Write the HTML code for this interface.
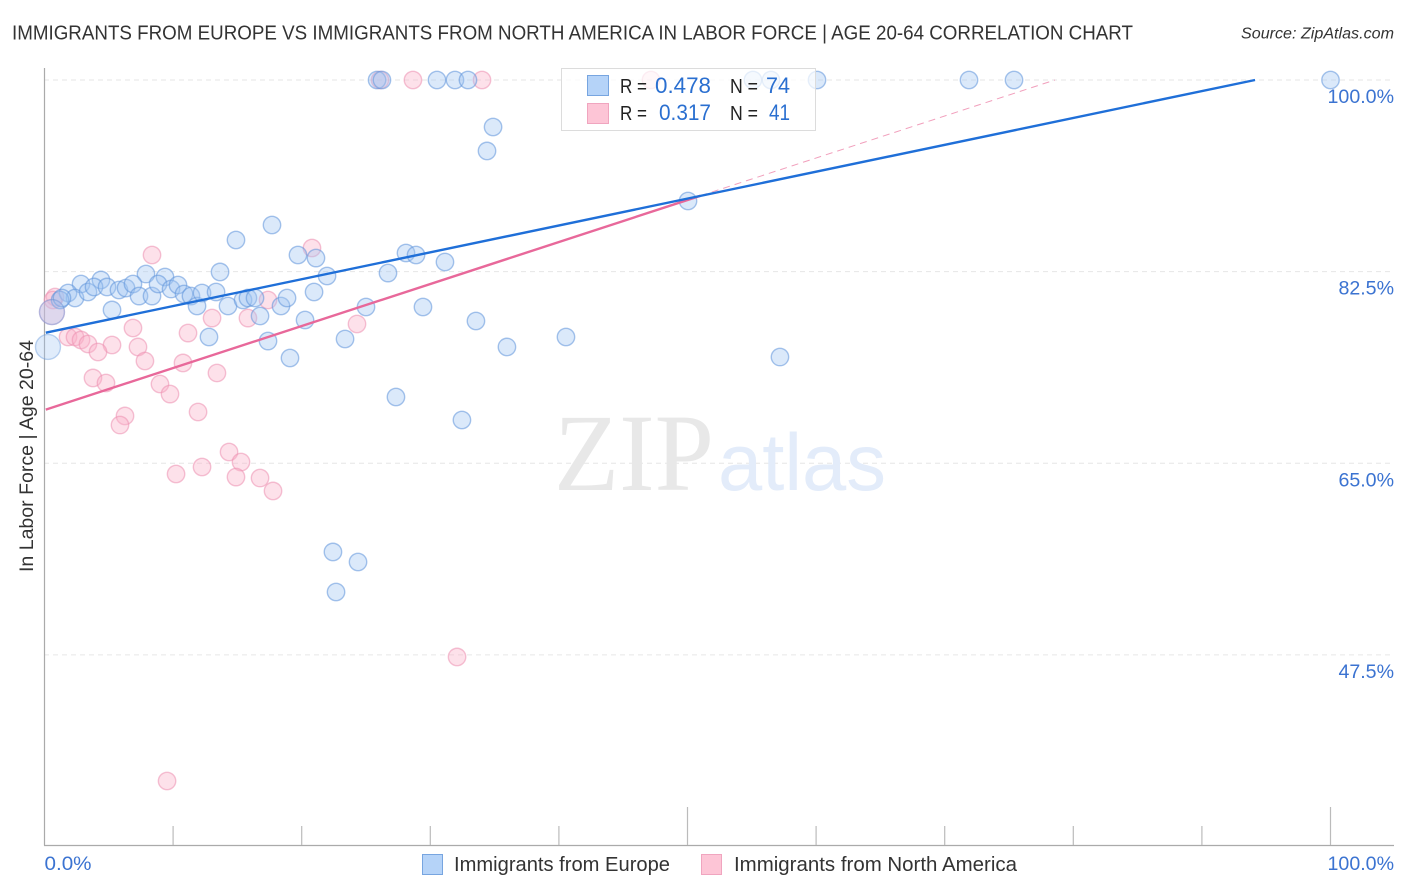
<!DOCTYPE html>
<html lang="en">
<head>
<meta charset="utf-8">
<title>Immigrants from Europe vs Immigrants from North America in Labor Force | Age 20-64 Correlation Chart</title>
<style>
html,body{margin:0;padding:0;background:#fff;width:1406px;height:892px;overflow:hidden}
svg{display:block}
text{font-family:"Liberation Sans",sans-serif}
</style>
</head>
<body>
<svg id="chart" width="1406" height="892" viewBox="0 0 1406 892" xmlns="http://www.w3.org/2000/svg">
  <rect x="0" y="0" width="1406" height="892" fill="#fff"/>
  <text x="12" y="39.5" font-size="20" fill="#333" textLength="1121" lengthAdjust="spacingAndGlyphs">IMMIGRANTS FROM EUROPE VS IMMIGRANTS FROM NORTH AMERICA IN LABOR FORCE | AGE 20-64 CORRELATION CHART</text>
  <text x="1394" y="38.5" font-size="15.5" font-style="italic" fill="#333" text-anchor="end" textLength="153" lengthAdjust="spacingAndGlyphs">Source: ZipAtlas.com</text>
  <g id="grid"></g>
  <g>
    <text x="554" y="490" font-size="110" fill="#e8e8e8" textLength="160" lengthAdjust="spacingAndGlyphs" style="font-family:'Liberation Serif',serif">ZIP</text>
    <text x="718" y="490" font-size="81" fill="#e3ecfa" textLength="168" lengthAdjust="spacingAndGlyphs" style="font-family:'Liberation Sans',sans-serif">atlas</text>
  </g>
  <g id="axes"></g>
  <g id="pink-points"></g>
  <g id="blue-points"></g>
  <g id="trends"></g>
  <g id="tick-labels"></g>
  <text transform="translate(33,456) rotate(-90)" font-size="19" fill="#333" text-anchor="middle" textLength="232" lengthAdjust="spacingAndGlyphs">In Labor Force | Age 20-64</text>

  <g>
    <rect x="561.5" y="68.5" width="254" height="62" fill="#fff" fill-opacity="0.72" stroke="#dcdcdc"/>
    <rect x="587.5" y="75.5" width="21" height="20" fill="#b5d3f8" stroke="#77a5e0" stroke-width="1"/>
    <rect x="587.5" y="103.5" width="21" height="20" fill="#fdc5d6" stroke="#f0a5bf" stroke-width="1"/>
    <text x="620" y="93" font-size="20" fill="#222" textLength="27" lengthAdjust="spacingAndGlyphs">R =</text>
    <text x="711" y="93" font-size="22" fill="#2a6fd0" text-anchor="end" textLength="56" lengthAdjust="spacingAndGlyphs">0.478</text>
    <text x="730" y="93" font-size="20" fill="#222" textLength="28" lengthAdjust="spacingAndGlyphs">N =</text>
    <text x="790" y="93" font-size="22" fill="#2a6fd0" text-anchor="end" textLength="24" lengthAdjust="spacingAndGlyphs">74</text>
    <text x="620" y="120" font-size="20" fill="#222" textLength="27" lengthAdjust="spacingAndGlyphs">R =</text>
    <text x="711" y="120" font-size="22" fill="#2a6fd0" text-anchor="end" textLength="52" lengthAdjust="spacingAndGlyphs">0.317</text>
    <text x="730" y="120" font-size="20" fill="#222" textLength="28" lengthAdjust="spacingAndGlyphs">N =</text>
    <text x="790" y="120" font-size="22" fill="#2a6fd0" text-anchor="end" textLength="21" lengthAdjust="spacingAndGlyphs">41</text>
  </g>

  <g>
    <rect x="422.5" y="854.5" width="20" height="20" fill="#b5d3f8" stroke="#77a5e0"/>
    <text x="454" y="871" font-size="20" fill="#333" textLength="216" lengthAdjust="spacingAndGlyphs">Immigrants from Europe</text>
    <rect x="701.5" y="854.5" width="20" height="20" fill="#fdc5d6" stroke="#f0a5bf"/>
    <text x="734" y="871" font-size="20" fill="#333" textLength="283" lengthAdjust="spacingAndGlyphs">Immigrants from North America</text>
  </g>
</svg>
<script>
const yTickValues = [100, 82.5, 65, 47.5];
const yTickLabels = ['100.0%', '82.5%', '65.0%', '47.5%'];
const xTickValues = [0, 10, 20, 30, 40, 50, 60, 70, 80, 90, 100];
const xEndLabels = ['0.0%', '100.0%'];

const europeX = [25.86,26.24,30.52,31.92,32.93,55.09,56.49,60.07,71.89,75.39,100,34.88,34.41,50.04,14.89,17.69,19.71,21.11,21.97,13.65,7.89,9.37,4.39,2.84,1.83,2.37,3.38,3.85,4.86,5.79,6.34,6.88,7.35,8.36,8.83,9.84,10.38,10.85,11.39,11.86,12.25,13.34,14.27,15.44,15.82,16.37,18.39,18.86,16.76,20.26,20.96,25.00,26.71,28.11,28.89,31.14,29.43,33.55,35.96,40.55,57.19,12.79,17.38,19.09,23.37,27.33,32.46,22.43,24.38,22.67,5.25,1.21,1.36];
const europeY = [100,100,100,100,100,100,100,100,100,100,100,95.71,93.52,88.95,85.39,86.76,84.02,83.74,82.10,82.47,82.28,82.01,81.74,81.37,80.55,80.09,80.64,81.10,81.10,80.82,81.00,81.37,80.27,80.27,81.37,80.91,81.28,80.46,80.27,79.36,80.55,80.64,79.36,79.91,80.09,80.09,79.36,80.09,78.45,78.08,80.64,79.27,82.37,84.20,84.02,83.38,79.27,77.99,75.62,76.53,74.70,76.53,76.16,74.61,76.35,71.05,68.95,56.90,55.98,53.24,79.00,79.91,80.09];
const europeLargeX = [0.27, 0.58];
const europeLargeY = [75.62, 78.81];

const northAmericaX = [26.09,28.65,34.02,47.16,8.36,20.80,17.38,15.82,13.03,24.30,11.16,6.88,5.25,7.27,1.83,2.37,2.84,3.38,4.16,7.81,10.77,13.41,3.77,4.78,8.98,9.76,11.94,6.26,5.87,14.35,15.28,12.25,10.23,14.89,16.76,17.77,32.08,9.53,0.82,0.66];
const northAmericaY = [100,100,100,100,84.02,84.66,79.91,78.26,78.26,77.72,76.89,77.35,75.80,75.62,76.53,76.53,76.26,75.89,75.16,74.34,74.16,73.24,72.79,72.33,72.24,71.32,69.68,69.32,68.49,66.03,65.11,64.66,64.02,63.74,63.65,62.47,47.31,35.98,80.18,79.91];
const northAmericaLargeX = [0.58];
const northAmericaLargeY = [78.81];

const europeTrend = [76.9, 0.2454];
const northAmericaTrend = [69.86, 0.3836];
const northAmericaSolidEnd = [51];

const SVGNS = 'http://www.w3.org/2000/svg';
function xScale(v) { return 44.5 + v * 12.86; }
function yScale(v) { return 80 + (100 - v) * 10.95; }
function make(tag, attrs, parent, txt) {
  const el = document.createElementNS(SVGNS, tag);
  for (const k in attrs) el.setAttribute(k, attrs[k]);
  if (txt !== undefined) el.textContent = txt;
  parent.appendChild(el);
  return el;
}

const gridG = document.getElementById('grid');
const axesG = document.getElementById('axes');
const labelsG = document.getElementById('tick-labels');

yTickValues.forEach(function (v, i) {
  const line = make('line', {x1: 44, x2: 1394, y1: yScale(v), y2: yScale(v), stroke: '#e6e6e6', 'stroke-width': 1, 'stroke-dasharray': '5 4'}, gridG);
  
  
  const t = make('text', {x: 1394, y: yScale(v) + 23, 'font-size': 19.6, fill: '#3b73d1', 'text-anchor': 'end'}, labelsG, yTickLabels[i]);
  
  
});

const yAxisLine = make('line', {x1: 44.5, x2: 44.5, y1: 68, y2: 845.5, stroke: '#aaa', 'stroke-width': 1.2}, axesG);


const xAxisLine = make('line', {x1: 44, x2: 1394, y1: 845.5, y2: 845.5, stroke: '#aaa', 'stroke-width': 1.2}, axesG);



xTickValues.forEach(function (v) {
  if (v === 0) return;
  const tall = v === 50 || v === 100;
  const tick = make('line', {x1: xScale(v), x2: xScale(v), y1: tall ? 807 : 826, y2: 845, stroke: '#bbb', 'stroke-width': 1.2}, axesG);
  
  
});

const xLabelLeft = make('text', {x: xScale(0), y: 870, 'font-size': 19.6, fill: '#3b73d1', textLength: 47, lengthAdjust: 'spacingAndGlyphs'}, labelsG, xEndLabels[0]);


const xLabelRight = make('text', {x: 1394, y: 870, 'font-size': 19.6, fill: '#3b73d1', 'text-anchor': 'end'}, labelsG, xEndLabels[1]);



function drawPoints(groupId, xs, ys, r, fill, stroke, fillOpacity, strokeOpacity, name) {
  const g = document.getElementById(groupId);
  xs.forEach(function (x, i) {
    const c = make('circle', {cx: xScale(x), cy: yScale(ys[i]), r: r, fill: fill, 'fill-opacity': fillOpacity, stroke: stroke, 'stroke-opacity': strokeOpacity, 'stroke-width': 1.4}, g);
    
    
  });
}
const PINK_FILL = '#fbb0c8', PINK_STROKE = '#ec8fb0';
const BLUE_FILL = '#a0c4f2', BLUE_STROKE = '#5f94da';
drawPoints('pink-points', northAmericaX, northAmericaY, 8.7, PINK_FILL, PINK_STROKE, 0.38, 0.55, 'north-america-point');
drawPoints('pink-points', northAmericaLargeX, northAmericaLargeY, 12.5, PINK_FILL, PINK_STROKE, 0.38, 0.4, 'north-america-point-large');
drawPoints('blue-points', europeX, europeY, 8.7, BLUE_FILL, BLUE_STROKE, 0.38, 0.55, 'europe-point');
drawPoints('blue-points', europeLargeX, europeLargeY, 12.5, BLUE_FILL, BLUE_STROKE, 0.32, 0.4, 'europe-point-large');

function trendY(t, x) { return t[0] + t[1] * x; }
function xAtFull(t) { return (100 - t[0]) / t[1]; }
const trendsG = document.getElementById('trends');

const pinkDash = make('line', {x1: xScale(northAmericaSolidEnd[0]), y1: yScale(trendY(northAmericaTrend, northAmericaSolidEnd[0])), x2: xScale(xAtFull(northAmericaTrend)), y2: yScale(100), stroke: '#ec7fa6', 'stroke-width': 1, 'stroke-dasharray': '7 5', 'stroke-opacity': 0.75}, trendsG);


const pinkLine = make('line', {x1: xScale(0.1), y1: yScale(trendY(northAmericaTrend, 0.1)), x2: xScale(northAmericaSolidEnd[0]), y2: yScale(trendY(northAmericaTrend, northAmericaSolidEnd[0])), stroke: '#e8689a', 'stroke-width': 2.4}, trendsG);


const blueLine = make('line', {x1: xScale(0.1), y1: yScale(trendY(europeTrend, 0.1)), x2: xScale(xAtFull(europeTrend)), y2: yScale(100), stroke: '#1f6fd8', 'stroke-width': 2.4}, trendsG);


</script>
</body>
</html>
